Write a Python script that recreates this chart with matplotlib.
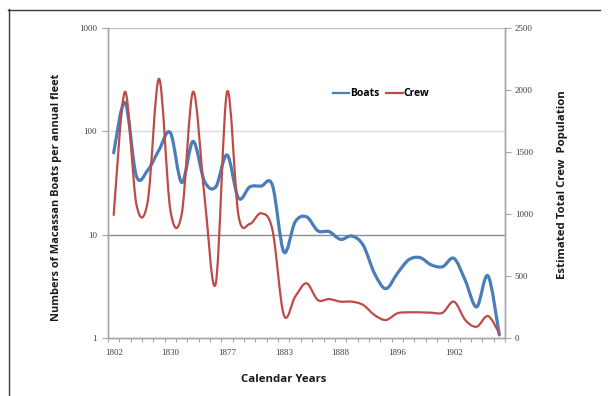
import matplotlib
matplotlib.use('Agg')
import matplotlib.pyplot as plt
import numpy as np
from matplotlib.path import Path
from matplotlib.patches import PathPatch
from matplotlib.lines import Line2D

# ---- data ----
n_categories = 35
tick_labels = ['1802', '1830', '1877', '1883', '1888', '1896', '1902']
label_every = 5
boats = [62, 190, 37, 42, 66, 97, 32, 80, 33, 29, 59, 22.6, 29, 29.5, 30,
         6.8, 13.3, 14.9, 10.9, 10.7, 9.0, 9.7, 7.9, 4.2, 3.0, 4.2, 5.7, 6.0,
         5.1, 4.9, 5.9, 3.6, 2.0, 4.0, 1.07]
crew = [992, 1986, 1080, 1100, 2090, 1030, 1000, 1986, 1150, 441, 1986, 990, 920,
        1006, 871, 185, 333, 441, 306, 314, 293, 293, 266, 185, 145, 199, 207,
        207, 204, 204, 293, 145, 91, 177, 38]

BLUE = '#4a7ebb'
RED = '#be4b48'
AXC = '#a6a6a6'
TXT = '#404040'


def smooth_path(xs, ys):
    n = len(xs)
    verts = [(xs[0], ys[0])]
    codes = [Path.MOVETO]
    for i in range(n - 1):
        a = max(i - 1, 0)
        d = min(i + 2, n - 1)
        c1 = (xs[i] + (xs[i + 1] - xs[a]) / 6.0, ys[i] + (ys[i + 1] - ys[a]) / 6.0)
        c2 = (xs[i + 1] - (xs[d] - xs[i]) / 6.0, ys[i + 1] - (ys[d] - ys[i]) / 6.0)
        verts += [c1, c2, (xs[i + 1], ys[i + 1])]
        codes += [Path.CURVE4] * 3
    return np.array(verts), codes


fig = plt.figure(figsize=(6.08, 3.96), dpi=100)
W, H = 608, 396
ax = fig.add_axes([108 / W, 1 - 338 / H, (505 - 108) / W, (338 - 28) / H])
ax2 = ax.twinx()

x = np.arange(n_categories)

# boats on log axis, smoothed in log space
v, c = smooth_path(x.astype(float), np.log10(boats))
v[:, 1] = 10 ** v[:, 1]
ax.add_patch(PathPatch(Path(v, c), facecolor='none', edgecolor=BLUE, lw=2.3,
                       capstyle='round', joinstyle='round', zorder=3))
v2, c2 = smooth_path(x.astype(float), np.array(crew, dtype=float))
ax2.add_patch(PathPatch(Path(v2, c2), facecolor='none', edgecolor=RED, lw=1.6,
                        capstyle='round', joinstyle='round', zorder=3))

ax.set_yscale('log')
ax.set_ylim(1, 1000)
ax.set_xlim(-0.5, n_categories - 0.5)
ax2.set_ylim(0, 2500)

# gridlines
for val, col in [(10, '#8c8c8c'), (100, '#dcdcdc'), (1000, '#c4c4c4')]:
    ax.axhline(val, color=col, lw=1.0, zorder=1)

for s in ['top']:
    ax.spines[s].set_visible(False)
    ax2.spines[s].set_visible(False)
for a in (ax, ax2):
    for s in ['left', 'right', 'bottom']:
        a.spines[s].set_color(AXC)
        a.spines[s].set_linewidth(1.0)

ax.set_yticks([1, 10, 100, 1000])
ax.set_yticklabels(['1', '10', '100', '1000'])
ax.yaxis.set_minor_locator(matplotlib.ticker.NullLocator())
ax.tick_params(axis='y', which='major', length=4, width=0.8, color=AXC, pad=4,
               labelsize=6.5, labelcolor=TXT, direction='out')
for t in ax.get_yticklabels():
    t.set_family('Liberation Serif')

ax2.set_yticks([0, 500, 1000, 1500, 2000, 2500])
ax2.tick_params(axis='y', length=4, width=0.8, color=AXC, pad=3,
                labelsize=6.5, labelcolor=TXT, direction='out')
for t in ax2.get_yticklabels():
    t.set_family('Liberation Serif')

major_pos = x[::label_every][:len(tick_labels)]
ax.set_xticks(major_pos)
ax.set_xticklabels(tick_labels)
ax.set_xticks(np.arange(n_categories + 1) - 0.5, minor=True)
ax.tick_params(axis='x', which='major', length=0, pad=8, labelsize=6.5,
               labelcolor=TXT)
ax.tick_params(axis='x', which='minor', length=3, width=0.8, color=AXC,
               direction='out')
for t in ax.get_xticklabels():
    t.set_family('Liberation Serif')

# axis titles
fig.text(57 / W, 1 - 197 / H, 'Numbers of Macassan Boats per annual fleet',
         rotation=90, ha='center', va='center', fontsize=7.9,
         fontweight='bold', family='Open Sans', color='#1a1a1a')
fig.text(563 / W, 1 - 185 / H, 'Estimated Total Crew  Population',
         rotation=90, ha='center', va='center', fontsize=8.2,
         fontweight='bold', family='Open Sans', color='#1a1a1a')
fig.text(284 / W, 1 - 379 / H, 'Calendar Years', ha='center', va='center',
         fontsize=8.2, fontweight='bold', family='Open Sans', color='#1a1a1a')

# legend
handles = [Line2D([], [], color=BLUE, lw=1.6), Line2D([], [], color=RED, lw=1.6)]
leg = ax2.legend(handles, ['Boats', 'Crew'], ncol=2, frameon=False,
                 loc='center', bbox_to_anchor=((381 - 108) / 397, (338 - 94) / 310),
                 handlelength=1.6, handletextpad=0.1, columnspacing=0.6,
                 prop={'family': 'Open Sans', 'weight': 'bold', 'size': 7.5})

# outer frame lines
fig.add_artist(Line2D([8 / W, 600 / W], [1 - 9.5 / H, 1 - 9.5 / H], color='#3a3a3a', lw=1.0))
fig.add_artist(Line2D([8.5 / W, 8.5 / W], [1 - 9 / H, 0], color='#3a3a3a', lw=1.0))

fig.savefig('out.png', dpi=100)
